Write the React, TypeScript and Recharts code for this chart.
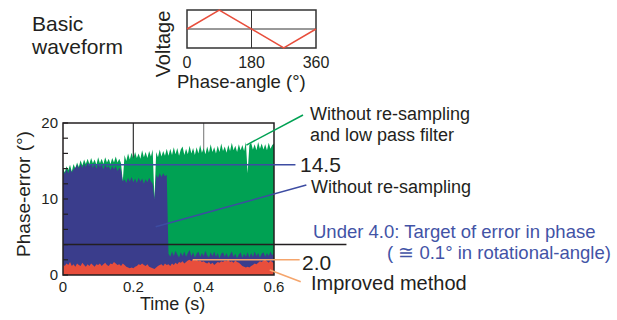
import React from 'react';
import {
  ComposedChart,
  LineChart,
  Area,
  Line,
  XAxis,
  YAxis,
  CartesianGrid,
  ReferenceLine,
  ReferenceArea
} from 'recharts';

// sampling step of the recorded phase error (s)
const SAMPLE_STEP = 0.005;

// Without re-sampling and low pass filter (upper envelope, deg)
const greenTop = [
  14.1, 13.5, 14.3, 13.8, 14.5, 13.6, 14.6, 14.0, 14.8, 14.2,
  15.1, 14.4, 15.2, 14.6, 15.3, 14.6, 15.4, 14.7, 15.2, 14.5,
  15.5, 14.7, 15.3, 14.6, 15.5, 14.8, 15.3, 14.6, 15.4, 14.8,
  15.6, 14.8, 15.3, 14.7, 12.3, 15.8, 15.0, 16.0, 15.2, 16.1,
  15.3, 16.2, 15.4, 16.0, 15.3, 16.4, 15.5, 16.2, 15.4, 16.3,
  15.6, 16.5, 10.0, 16.2, 15.5, 16.5, 15.6, 16.3, 15.7, 16.6,
  15.7, 16.6, 15.8, 16.8, 15.9, 16.7, 15.7, 16.5, 16.9, 15.8,
  16.6, 15.9, 17.0, 16.0, 16.7, 15.8, 16.8, 16.0, 17.1, 16.1,
  16.7, 15.9, 16.9, 16.1, 17.2, 16.2, 16.8, 16.0, 17.0, 16.2,
  17.3, 16.3, 16.9, 16.1, 17.1, 16.3, 17.4, 16.4, 17.0, 16.2,
  17.2, 16.4, 17.1, 16.3, 17.5, 13.4, 17.1, 17.4, 16.5, 17.2,
  16.4, 17.5, 16.6, 17.3, 16.5, 17.2, 16.4, 17.4, 16.6, 17.1,
  17.3
];

// Without re-sampling
const blueTop = [
  13.8, 13.3, 13.9, 13.4, 14.0, 13.5, 13.9, 14.1, 14.5, 14.0,
  14.6, 14.1, 14.7, 14.2, 14.8, 14.3, 14.6, 14.1, 14.6, 14.0,
  14.6, 14.2, 14.5, 13.9, 14.5, 14.1, 14.3, 13.8, 14.3, 13.9,
  14.3, 13.7, 14.1, 13.8, 12.3, 12.6, 12.1, 12.8, 12.3, 12.9,
  12.2, 12.7, 12.1, 12.8, 12.3, 12.7, 12.0, 12.6, 12.2, 12.8,
  12.3, 12.0, 10.0, 13.2, 12.8, 13.4, 12.9, 13.4, 13.0, 13.2,
  2.8, 2.4, 3.1, 2.5, 3.2, 2.7, 2.3, 3.0, 2.5, 3.1,
  2.4, 2.9, 3.3, 2.5, 3.0, 2.3, 2.8, 3.1, 2.4, 2.9,
  2.5, 3.2, 2.6, 2.3, 3.0, 2.5, 3.1, 2.4, 2.9, 2.2,
  2.8, 3.0, 2.4, 2.9, 2.3, 2.7, 3.1, 2.4, 2.8, 2.2,
  2.7, 3.0, 2.3, 2.8, 2.4, 3.0, 2.3, 2.9, 2.4, 3.1,
  2.5, 2.9, 2.3, 2.8, 3.0, 2.4, 2.9, 2.5, 3.1, 2.6,
  2.9
];

// Improved method
const redTop = [
  1.4, 1.2, 1.5, 1.3, 1.7, 1.2, 1.4, 1.1, 1.5, 1.3,
  1.2, 1.6, 1.3, 1.1, 1.4, 1.2, 1.5, 1.3, 1.1, 1.4,
  1.3, 1.5, 1.2, 1.4, 1.6, 1.3, 1.2, 1.5, 1.4, 1.7,
  1.5, 1.3, 1.4, 1.2, 1.5, 1.3, 1.1, 1.0, 0.9, 1.0,
  0.9, 1.1, 1.2, 1.4, 1.3, 1.5, 1.3, 1.2, 1.4, 1.1,
  1.0, 0.9, 0.8, 1.0, 1.2, 1.3, 1.4, 1.2, 1.5, 1.3,
  1.4, 1.2, 1.5, 1.3, 1.6, 1.4, 1.7, 1.6, 1.8, 1.5,
  1.7, 1.9, 2.0, 1.8, 2.1, 1.9, 2.0, 1.8, 1.9, 1.7,
  1.8, 1.6, 1.5, 1.7, 1.4, 1.6, 1.3, 1.5, 1.7, 1.6,
  1.8, 1.7, 1.9, 1.8, 2.0, 1.7, 1.8, 1.6, 1.9, 1.7,
  1.6, 1.4, 1.2, 1.1, 1.0, 1.1, 1.0, 1.2, 1.3, 1.5,
  1.4, 1.6, 1.8, 1.7, 1.9, 2.0, 1.8, 1.6, 1.9, 1.7,
  1.5
];

const timeTicks = [0, 0.2, 0.4, 0.6];
const errorTicks = [0, 2, 4, 6, 8, 10, 12, 14, 16, 18, 20];
const errorLabels = [0, 10, 20];
const TARGET_ERROR = 4.0;
const MEAN_WITHOUT_RESAMPLING = 14.5;
const MEAN_IMPROVED = 2.0;

// basic waveform inset
const phaseDeg = [0, 90, 270, 360];
const voltage = [0, 1, -1, 0];
const phaseTicks = [0, 180, 360];

const FONT = '"Liberation Sans", Arial, sans-serif';
const GREEN = '#00a153';
const BLUE = '#3a3d8c';
const RED = '#e84e3c';
const LINE_BLUE = '#3d4ca2';
const ORANGE = '#f5a56c';
const TEXT_BLUE = '#4253a6';

const mainData = greenTop.map((g, i) => ({
  t: +(i * SAMPLE_STEP).toFixed(3),
  green: g,
  blue: blueTop[i],
  red: redTop[i]
}));

const waveData = phaseDeg.map((p, i) => ({ phase: p, v: voltage[i] }));

function Note({ x, y, size, color = '#231f20', children }: any) {
  return (
    <div
      style={{
        position: 'absolute',
        left: x,
        top: y,
        transform: 'translateY(-50%)',
        fontSize: size,
        lineHeight: 1,
        color,
        whiteSpace: 'nowrap'
      }}
    >
      {children}
    </div>
  );
}

function VNote({ x, y, size, children }: any) {
  return (
    <div
      style={{
        position: 'absolute',
        left: x,
        top: y,
        transform: 'translate(-50%, -50%) rotate(-90deg)',
        fontSize: size,
        lineHeight: 1,
        color: '#231f20',
        whiteSpace: 'nowrap'
      }}
    >
      {children}
    </div>
  );
}

export default function App() {
  const tickStyle = { fill: '#231f20', fontSize: 15, fontFamily: FONT };

  return (
    <div
      style={{
        position: 'absolute',
        left: 0,
        top: 0,
        width: 617,
        height: 320,
        background: '#fff',
        fontFamily: FONT,
        overflow: 'hidden'
      }}
    >
      <div style={{ position: 'absolute', left: 150, top: 0 }}>
        <LineChart
          width={200}
          height={75}
          data={waveData}
          margin={{ top: 10, right: 34, left: 37, bottom: 0 }}
        >
          <XAxis
            dataKey="phase"
            type="number"
            domain={[0, 360]}
            ticks={phaseTicks}
            tickLine={false}
            axisLine={false}
            height={27}
            tickMargin={3}
            tick={{ fill: '#231f20', fontSize: 16, fontFamily: FONT }}
          />
          <YAxis hide domain={[-1, 1]} />
          <ReferenceLine y={0} stroke="#333" strokeWidth={1} />
          <ReferenceLine x={180} stroke="#333" strokeWidth={1} />
          <Line
            type="linear"
            dataKey="v"
            stroke={RED}
            strokeWidth={1.5}
            dot={false}
            activeDot={false}
            isAnimationActive={false}
          />
          <ReferenceArea
            x1={0}
            x2={360}
            y1={-1}
            y2={1}
            fill="none"
            stroke="#333"
            strokeWidth={1.5}
            fillOpacity={0}
          />
        </LineChart>
      </div>

      <div style={{ position: 'absolute', left: 0, top: 0 }}>
        <ComposedChart
          width={617}
          height={320}
          data={mainData}
          margin={{ top: 123, right: 343, left: 0, bottom: 15 }}
        >
          <CartesianGrid horizontal={false} verticalValues={[0.2]} stroke="#333" strokeWidth={1.2} />
          <CartesianGrid horizontal={false} verticalValues={[0.4]} stroke="#8a8a8a" strokeWidth={1.2} />
          <XAxis
            dataKey="t"
            type="number"
            domain={[0, 0.6]}
            ticks={timeTicks}
            tickLine={false}
            axisLine={false}
            height={30}
            tickMargin={0}
            tick={tickStyle}
          />
          <YAxis
            type="number"
            domain={[0, 20]}
            ticks={errorTicks}
            interval={0}
            width={63}
            axisLine={false}
            tickSize={-5}
            tickMargin={10}
            tickLine={{ stroke: '#231f20', strokeWidth: 1.2 }}
            tickFormatter={(v: number) => (errorLabels.includes(v) ? String(v) : '')}
            tick={tickStyle}
          />
          <Area
            type="linear"
            dataKey="green"
            stroke="none"
            fill={GREEN}
            fillOpacity={1}
            dot={false}
            activeDot={false}
            isAnimationActive={false}
          />
          <Area
            type="linear"
            dataKey="blue"
            stroke="none"
            fill={BLUE}
            fillOpacity={1}
            dot={false}
            activeDot={false}
            isAnimationActive={false}
          />
          <Area
            type="linear"
            dataKey="red"
            stroke="none"
            fill={RED}
            fillOpacity={1}
            dot={false}
            activeDot={false}
            isAnimationActive={false}
          />
          <ReferenceLine
            segment={[{ x: 0, y: TARGET_ERROR }, { x: 0.806, y: TARGET_ERROR }]}
            stroke="#231f20"
            strokeWidth={1.5}
            ifOverflow="visible"
          />
          <ReferenceLine
            segment={[{ x: 0.071, y: MEAN_WITHOUT_RESAMPLING }, { x: 0.661, y: MEAN_WITHOUT_RESAMPLING }]}
            stroke={LINE_BLUE}
            strokeWidth={1.5}
            ifOverflow="visible"
          />
          <ReferenceLine
            segment={[{ x: 0.369, y: MEAN_IMPROVED }, { x: 0.673, y: MEAN_IMPROVED }]}
            stroke={ORANGE}
            strokeWidth={1.5}
            ifOverflow="visible"
          />
          <ReferenceLine
            segment={[{ x: 0.5215, y: 17.1 }, { x: 0.6825, y: 21.05 }]}
            stroke={GREEN}
            strokeWidth={1.5}
            ifOverflow="visible"
          />
          <ReferenceLine
            segment={[{ x: 0.2636, y: 6.36 }, { x: 0.692, y: 11.84 }]}
            stroke={LINE_BLUE}
            strokeWidth={1.5}
            ifOverflow="visible"
          />
          <ReferenceLine
            segment={[{ x: 0.588, y: 0.66 }, { x: 0.676, y: -0.88 }]}
            stroke={ORANGE}
            strokeWidth={1.5}
            ifOverflow="visible"
          />
          <ReferenceArea
            x1={0}
            x2={0.6}
            y1={0}
            y2={20}
            fill="none"
            fillOpacity={0}
            stroke="#231f20"
            strokeWidth={1.5}
          />
        </ComposedChart>
      </div>

      <Note x={32} y={23} size={21}>Basic</Note>
      <Note x={32} y={46} size={21}>waveform</Note>
      <VNote x={163} y={44} size={20}>Voltage</VNote>
      <Note x={177} y={82} size={18.5}>Phase-angle (°)</Note>

      <VNote x={23} y={194} size={19}>Phase-error (°)</VNote>
      <Note x={140} y={304} size={18}>Time (s)</Note>

      <Note x={310} y={114} size={18}>Without re-sampling</Note>
      <Note x={310} y={135} size={18}>and low pass filter</Note>
      <Note x={300} y={164} size={21}>14.5</Note>
      <Note x={311} y={187} size={18}>Without re-sampling</Note>
      <Note x={313} y={232} size={18.5} color={TEXT_BLUE}>Under 4.0: Target of error in phase</Note>
      <Note x={387} y={253} size={18.5} color={TEXT_BLUE}>( ≅ 0.1° in rotational-angle)</Note>
      <Note x={302} y={262} size={21}>2.0</Note>
      <Note x={311} y={283} size={20}>Improved method</Note>
    </div>
  );
}
